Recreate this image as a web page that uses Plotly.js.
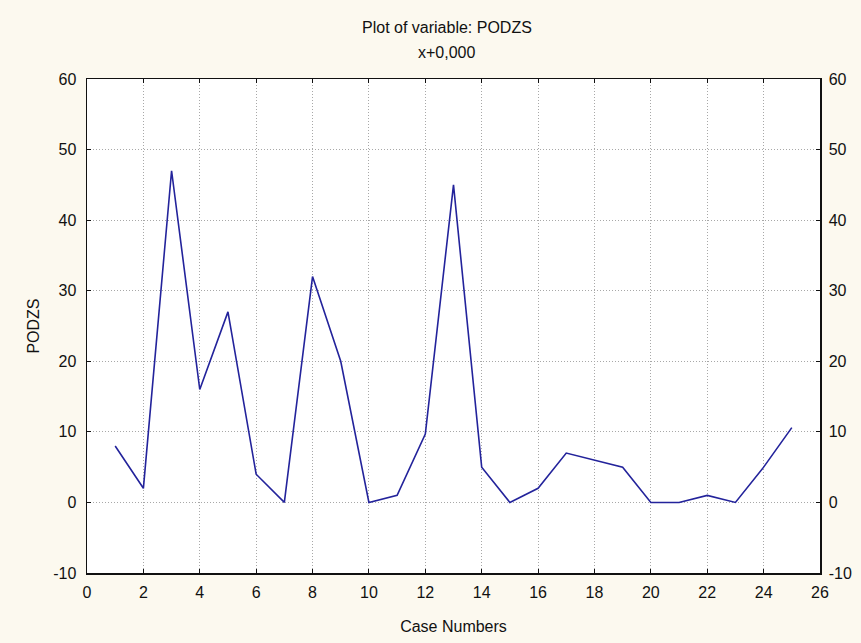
<!DOCTYPE html>
<html>
<head>
<meta charset="utf-8">
<script src="https://cdn.plot.ly/plotly-3.0.1.min.js"></script>
<style>
  html, body { margin: 0; padding: 0; background: #fcf9ef; }
  #chart { width: 861px; height: 643px; }
</style>
</head>
<body>
<div id="chart"></div>
<script>
// Case numbers and PODZS values
const caseNumbers = [1, 2, 3, 4, 5, 6, 7, 8, 9, 10, 11, 12, 13, 14, 15, 16, 17, 18, 19, 20, 21, 22, 23, 24, 25];
const podzs = [8, 2, 47, 16, 27, 4, 0, 32, 20, 0, 1, 9.7, 45, 5, 0, 2, 7, 6, 5, 0, 0, 1, 0, 5, 10.6];
const xTicks = [0, 2, 4, 6, 8, 10, 12, 14, 16, 18, 20, 22, 24, 26];
const yTicks = [-10, 0, 10, 20, 30, 40, 50, 60];

const FONT = 'Liberation Sans, Arial, sans-serif';
const textFont = { family: FONT, size: 16, color: '#111111' };

const trace = {
  x: caseNumbers,
  y: podzs,
  type: 'scatter',
  mode: 'lines',
  line: { color: '#23239b', width: 1.6 },
  hoverinfo: 'x+y',
  showlegend: false
};

// invisible trace to bring up the right-hand axis
const rightAxisTrace = {
  x: [caseNumbers[0]],
  y: [podzs[0]],
  yaxis: 'y2',
  type: 'scatter',
  mode: 'markers',
  marker: { opacity: 0 },
  hoverinfo: 'skip',
  showlegend: false
};

const commonAxis = {
  showline: true,
  linecolor: '#111111',
  linewidth: 1.5,
  ticks: 'inside',
  ticklen: 4,
  tickcolor: '#111111',
  tickfont: textFont,
  zeroline: false,
  gridcolor: '#a8a8a8',
  griddash: '1px,2px',
  gridwidth: 1
};

const layout = {
  width: 861,
  height: 643,
  paper_bgcolor: '#fcf9ef',
  plot_bgcolor: '#ffffff',
  margin: { l: 87, r: 41, t: 79, b: 70 },
  xaxis: Object.assign({}, commonAxis, {
    range: [0, 26],
    tickvals: xTicks,
    ticktext: xTicks.map(String),
    mirror: 'ticks',
    showgrid: true,
    ticklabelstandoff: 4,
    title: { text: 'Case Numbers', font: textFont, standoff: 21 }
  }),
  yaxis: Object.assign({}, commonAxis, {
    range: [-10, 60],
    tickvals: yTicks,
    ticktext: yTicks.map(String),
    showgrid: true,
    ticklabelstandoff: 6,
    title: { text: 'PODZS', font: textFont, standoff: 9 }
  }),
  yaxis2: Object.assign({}, commonAxis, {
    range: [-10, 60],
    tickvals: yTicks,
    ticktext: yTicks.map(String),
    overlaying: 'y',
    side: 'right',
    showgrid: false,
    ticklabelstandoff: 4
  }),
  annotations: [
    {
      text: 'Plot of variable: PODZS',
      xref: 'paper', yref: 'paper',
      x: 0.491, y: 1, yshift: 52,
      xanchor: 'center', yanchor: 'middle',
      showarrow: false, font: textFont
    },
    {
      text: 'x+0,000',
      xref: 'paper', yref: 'paper',
      x: 0.491, y: 1, yshift: 27,
      xanchor: 'center', yanchor: 'middle',
      showarrow: false, font: textFont
    }
  ]
};

Plotly.newPlot('chart', [trace, rightAxisTrace], layout, { displayModeBar: false, staticPlot: true });
</script>
</body>
</html>
